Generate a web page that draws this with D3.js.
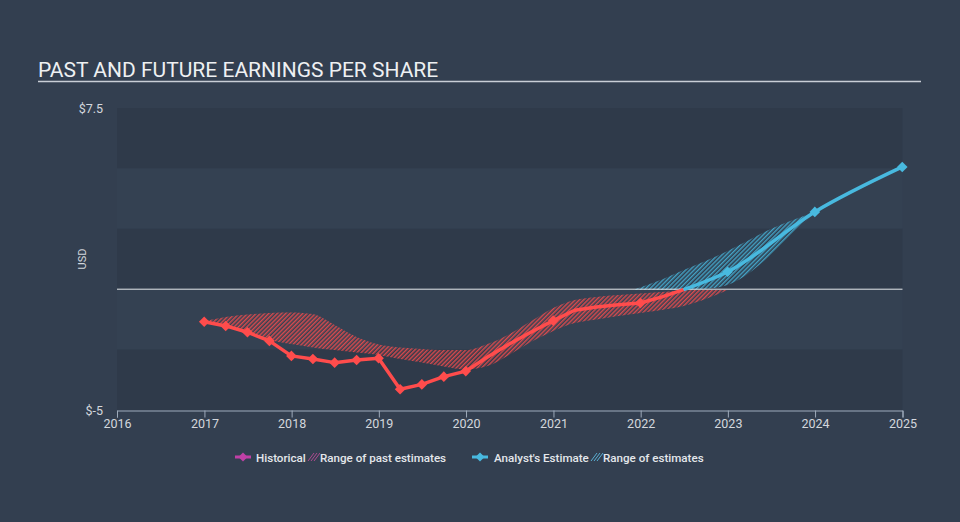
<!DOCTYPE html>
<html>
<head>
<meta charset="utf-8">
<script src="https://cdn.jsdelivr.net/npm/d3@7"></script>
<style>
  html, body { margin: 0; padding: 0; background: #333f50; }
  svg { display: block; }
  text { font-family: Roboto, "Noto Sans", sans-serif; }
</style>
</head>
<body>
<svg id="chart" width="960" height="522"></svg>
<script>
// ---------- DATA ----------
const title = "PAST AND FUTURE EARNINGS PER SHARE";
const yTickLabels = ["$7.5", "$-5"];
const yTickValues = [7.5, -5];
const xTickYears = [2016, 2017, 2018, 2019, 2020, 2021, 2022, 2023, 2024, 2025];

const histDates = ["2016-12-31","2017-03-31","2017-06-30","2017-09-30","2017-12-31","2018-03-31","2018-06-30","2018-09-30","2018-12-31","2019-03-31","2019-06-30","2019-09-30","2019-12-31","2020-03-31","2020-06-30","2020-09-30","2020-12-31","2021-03-31","2021-06-30","2021-09-30","2021-12-31","2022-03-31","2022-06-30"];
const histValues = [-1.35,-1.52,-1.78,-2.14,-2.76,-2.89,-3.04,-2.93,-2.86,-4.14,-3.94,-3.62,-3.39,-2.81,-2.27,-1.77,-1.30,-0.87,-0.74,-0.64,-0.57,-0.32,-0.02];
const histMarker = [1,1,1,1,1,1,1,1,1,1,1,1,1,0,0,0,1,0,0,0,1,0,0];

const fcDates = ["2022-06-30","2022-12-31","2023-12-31","2024-12-31"];
const fcValues = [-0.02, 0.72, 3.20, 5.06];
const fcMarker = [0,1,1,1];

const pastBandDates = ["2016-12-31","2017-03-31","2017-06-30","2017-09-30","2017-12-31","2018-03-31","2018-06-30","2018-09-30","2018-12-31","2019-03-31","2019-06-30","2019-09-30","2019-12-31","2020-03-31","2020-06-30","2020-09-30","2020-12-31","2021-03-31","2021-06-30","2021-09-30","2021-12-31","2022-03-31","2022-06-30","2022-09-30","2022-12-31"];
const pastBandHigh = [-1.32,-1.15,-1.05,-0.98,-0.96,-1.03,-1.48,-1.98,-2.29,-2.41,-2.47,-2.52,-2.52,-2.27,-1.86,-1.32,-0.78,-0.45,-0.32,-0.24,-0.18,-0.12,-0.05,-0.03,-0.03];
const pastBandLow  = [-1.32,-1.57,-1.81,-2.10,-2.27,-2.41,-2.52,-2.62,-2.72,-2.89,-3.03,-3.20,-3.32,-3.18,-2.72,-2.18,-1.73,-1.40,-1.25,-1.11,-0.98,-0.86,-0.70,-0.41,-0.03];

const fcBandDates = ["2021-11-28","2022-03-31","2022-06-30","2022-09-30","2022-12-31","2023-03-31","2023-06-30","2023-09-30","2023-12-31"];
const fcBandHigh = [-0.03, 0.40, 0.79, 1.17, 1.58, 2.04, 2.49, 2.86, 3.18];
const fcBandLow  = [-0.03,-0.03,-0.03, 0.01, 0.17, 0.67, 1.42, 2.33, 3.18];

// ---------- SETUP ----------
const parse = d3.timeParse("%Y-%m-%d");
const svg = d3.select("#chart");
const W = 960, H = 522;
const colRed = "#ff4c4c", colBlue = "#48b9df";

svg.append("rect").attr("width", W).attr("height", H).attr("fill", "#333f50");

const x = d3.scaleTime().domain([new Date(2016,0,1), new Date(2025,0,1)]).range([117, 902.5]);
const y = d3.scaleLinear().domain([-5, 7.5]).range([410, 108]);

// defs: hatch patterns
const defs = svg.append("defs");
function hatch(id, color, op) {
  const p = defs.append("pattern").attr("id", id).attr("patternUnits", "userSpaceOnUse")
    .attr("width", 3).attr("height", 3).attr("patternTransform", "rotate(45)");
  p.append("line").attr("x1", 0.75).attr("y1", 0).attr("x2", 0.75).attr("y2", 3)
    .attr("stroke", color).attr("stroke-width", 1.4).attr("stroke-opacity", op);
}
hatch("hRed", colRed, 0.85);
hatch("hBlue", colBlue, 0.85);

// title
svg.append("text").attr("x", 38).attr("y", 77).attr("fill", "#eef0f2")
  .attr("font-size", 21).text(title);
svg.append("line").attr("x1", 38).attr("x2", 921).attr("y1", 81.5).attr("y2", 81.5)
  .attr("stroke", "#c9ced6").attr("stroke-width", 1.5);

// stripes
const stripeBreaks = [7.5, 5, 2.5, 0, -2.5, -5];
for (let i = 0; i < stripeBreaks.length - 1; i++) {
  svg.append("rect").attr("x", x.range()[0]).attr("width", x.range()[1] - x.range()[0])
    .attr("y", y(stripeBreaks[i])).attr("height", y(stripeBreaks[i+1]) - y(stripeBreaks[i]))
    .attr("fill", i % 2 === 0 ? "#2f3a4a" : "#344152");
}

// y labels
svg.selectAll(".ylab").data(yTickValues).enter().append("text")
  .attr("x", 103).attr("y", d => y(d) + 4.5).attr("text-anchor", "end")
  .attr("fill", "#d3d7dd").attr("font-size", 12.5).text((d, i) => yTickLabels[i]);
svg.append("text").attr("transform", `translate(86,${y(1.25)}) rotate(-90)`)
  .attr("text-anchor", "middle").attr("fill", "#d3d7dd").attr("font-size", 11).text("USD");

// bands
const area = (dates, lo, hi) => d3.area().curve(d3.curveMonotoneX)
  .x((d, i) => x(parse(dates[i]))).y0((d, i) => y(lo[i])).y1((d, i) => y(hi[i]))(dates);
svg.append("path").attr("d", area(pastBandDates, pastBandLow, pastBandHigh)).attr("fill", "url(#hRed)");
svg.append("path").attr("d", area(fcBandDates, fcBandLow, fcBandHigh)).attr("fill", "url(#hBlue)");

// zero line
svg.append("line").attr("x1", x.range()[0]).attr("x2", x.range()[1]).attr("y1", y(0)).attr("y2", y(0))
  .attr("stroke", "#e6e8eb").attr("stroke-width", 1);

// lines
const lineGen = (dates, vals, curve) => d3.line().curve(curve)
  .x((d, i) => x(parse(dates[i]))).y((d, i) => y(vals[i]))(dates);
svg.append("path").attr("d", lineGen(histDates, histValues, d3.curveLinear))
  .attr("fill", "none").attr("stroke", colRed).attr("stroke-width", 3.5).attr("stroke-linejoin", "round");
svg.append("path").attr("d", lineGen(fcDates, fcValues, d3.curveMonotoneX))
  .attr("fill", "none").attr("stroke", colBlue).attr("stroke-width", 3.5).attr("stroke-linejoin", "round");

// markers (rotated squares)
const diamond = d3.symbol().type(d3.symbolSquare).size(56);
svg.selectAll(".hm").data(histDates.filter((d, i) => histMarker[i])).enter().append("path")
  .attr("d", diamond).attr("fill", colRed)
  .attr("transform", d => `translate(${x(parse(d))},${y(histValues[histDates.indexOf(d)])}) rotate(45)`);
svg.selectAll(".fm").data(fcDates.filter((d, i) => fcMarker[i])).enter().append("path")
  .attr("d", diamond).attr("fill", colBlue)
  .attr("transform", d => `translate(${x(parse(d))},${y(fcValues[fcDates.indexOf(d)])}) rotate(45)`);

// x axis
const xAxis = d3.axisBottom(x).tickValues(xTickYears.map(yr => new Date(yr, 0, 1)))
  .tickFormat(d3.timeFormat("%Y")).tickSize(7).tickSizeOuter(7).tickPadding(2);
const gx = svg.append("g").attr("transform", `translate(0,${y(-5) + 0.5})`).call(xAxis);
gx.selectAll("path, line").attr("stroke", "#9eabbb");
gx.selectAll("text").attr("fill", "#d3d7dd").attr("font-size", 12.5)
  .attr("font-family", "Roboto, sans-serif");

// legend
const lg = svg.append("g").attr("transform", "translate(0,457)");
function legMarker(cx, color) {
  lg.append("line").attr("x1", cx - 8).attr("x2", cx + 8).attr("y1", 0).attr("y2", 0)
    .attr("stroke", color).attr("stroke-width", 3);
  lg.append("path").attr("d", d3.symbol().type(d3.symbolSquare).size(40)())
    .attr("transform", `translate(${cx},0) rotate(45)`).attr("fill", color);
}
function legHatch(x0, color) {
  for (let k = 0; k < 3; k++) {
    lg.append("line").attr("x1", x0 + k * 3).attr("y1", 4).attr("x2", x0 + k * 3 + 6).attr("y2", -4)
      .attr("stroke", color).attr("stroke-width", 1);
  }
}
const legText = (xx, t) => lg.append("text").attr("x", xx).attr("y", 4.5).attr("fill", "#e4e7eb")
  .attr("font-size", 11.6).attr("font-family", "Inter, Roboto, sans-serif").attr("font-weight", 500).text(t);
legMarker(243, "#c040a6");
legText(256, "Historical");
legHatch(308, "#b04a90");
legText(320, "Range of past estimates");
legMarker(480, colBlue);
legText(494, "Analyst's Estimate");
legHatch(591, "#5ab0d4");
legText(603, "Range of estimates");
</script>
</body>
</html>
